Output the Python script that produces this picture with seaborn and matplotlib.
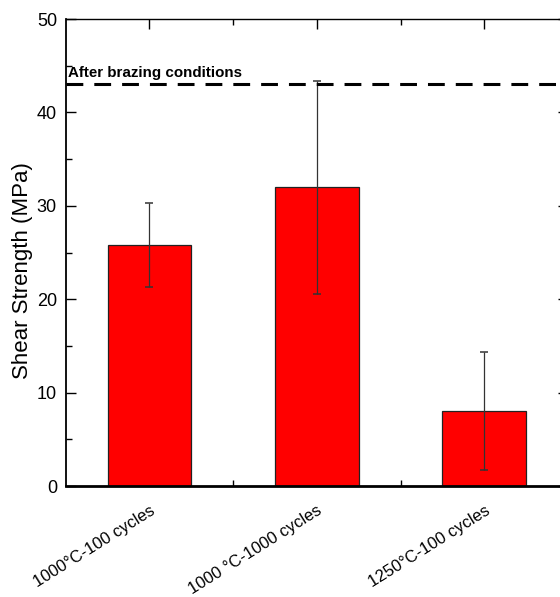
import matplotlib
matplotlib.use("Agg")
import matplotlib.pyplot as plt
from matplotlib.ticker import MultipleLocator, FixedLocator
import seaborn as sns
import pandas as pd

# Shear strength after thermal cycling
conditions = ["1000°C-100 cycles", "1000 °C-1000 cycles", "1250°C-100 cycles"]
strength = [25.8, 32.0, 8.0]
strength_sd = [4.5, 11.4, 6.3]
as_brazed = 43.0
as_brazed_label = "After brazing conditions"
y_ticks = [0, 10, 20, 30, 40, 50]

sns.set_theme(style="ticks")
plt.rcParams["font.family"] = ["Liberation Sans", "DejaVu Sans"]
plt.rcParams.update({"text.color": "black", "axes.labelcolor": "black",
                     "xtick.color": "black", "ytick.color": "black"})

df = pd.DataFrame({"condition": conditions, "strength": strength})

fig = plt.figure(figsize=(5.6, 5.97), dpi=100)
ax = fig.add_axes([0.1173, 0.1859, 0.897, 0.7822])

sns.barplot(data=df, x="condition", y="strength", color="#ff0000",
            saturation=1, width=0.5, errorbar=None,
            edgecolor="#222222", linewidth=0.9, ax=ax)

ax.errorbar(range(len(conditions)), strength, yerr=strength_sd, fmt="none",
            ecolor="#333333", elinewidth=0.9, capsize=3.2, capthick=1.1,
            zorder=3)

ax.axhline(as_brazed, color="black", lw=2.2, dashes=(5.5, 3.6), zorder=4)
ax.text(0.005, as_brazed + 0.8, as_brazed_label, transform=ax.get_yaxis_transform(),
        fontsize=10.9, fontweight="bold", ha="left", va="baseline", color="black")

ax.set_xlim(-0.5, 2.5)
ax.set_ylim(0, 50)
ax.set_yticks(y_ticks)
ax.yaxis.set_minor_locator(MultipleLocator(5))
ax.xaxis.set_minor_locator(FixedLocator([0.5, 1.5]))

ax.set_xlabel("")
ax.set_ylabel("Shear Strength (MPa)", fontsize=16)
ax.yaxis.set_label_coords(-0.065, 0.4615)
ax.set_xticks(range(len(conditions)))
ax.set_xticklabels(conditions, rotation=32, ha="right", va="top",
                   rotation_mode="anchor", fontsize=12)

ax.tick_params(axis="both", which="both", direction="in", top=True, right=True,
               color="black", width=1.0)
ax.tick_params(axis="both", which="major", length=7, pad=6.3)
ax.tick_params(axis="both", which="minor", length=4)
ax.tick_params(axis="y", labelsize=13)
ax.tick_params(axis="x", which="major", pad=12)

for side, lw in {"left": 1.3, "bottom": 2.0, "top": 1.0, "right": 1.0}.items():
    ax.spines[side].set_visible(True)
    ax.spines[side].set_linewidth(lw)
    ax.spines[side].set_color("black")

fig.savefig("out.png", dpi=100)
